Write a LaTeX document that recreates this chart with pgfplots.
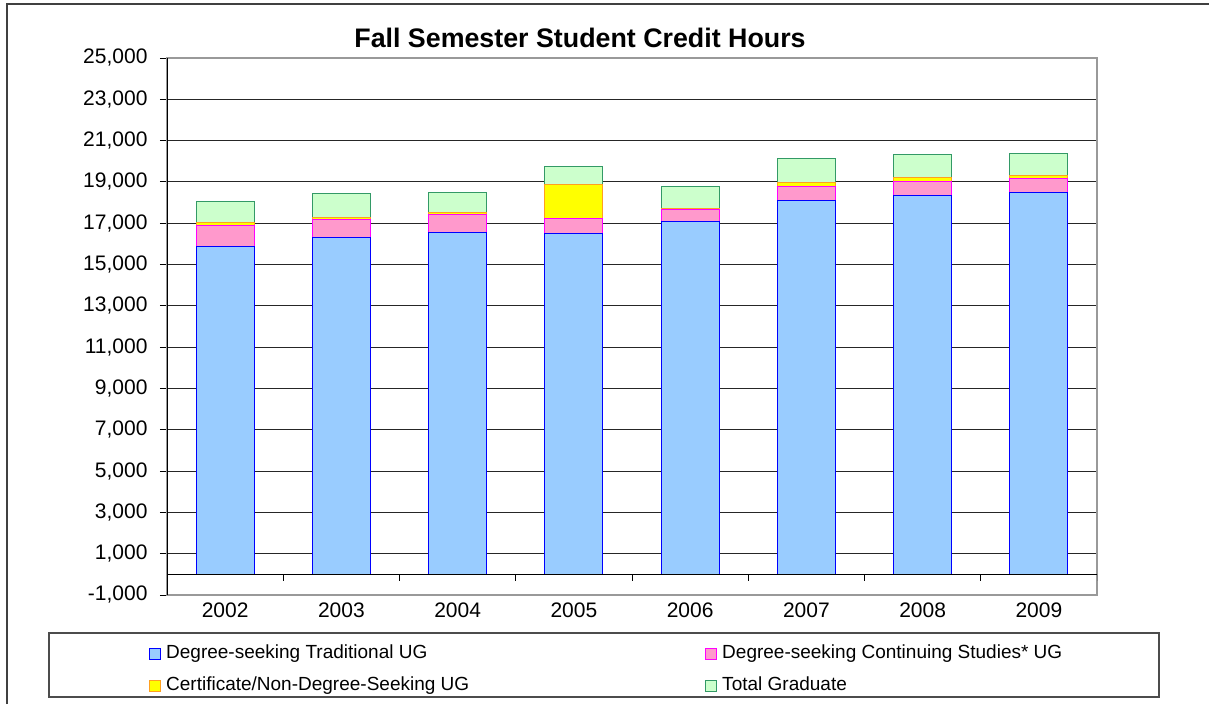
\documentclass[border=0pt]{standalone}
\usepackage{fontspec}
\setmainfont{Liberation Sans}
\usepackage{pgfplots}
\pgfplotsset{compat=1.18}
\definecolor{bluefill}{HTML}{99CCFF}
\definecolor{blueedge}{HTML}{0000FF}
\definecolor{pinkfill}{HTML}{FF99CC}
\definecolor{pinkedge}{HTML}{FF00FF}
\definecolor{yelfill}{HTML}{FFFF00}
\definecolor{yeledge}{HTML}{FFA020}
\definecolor{grnfill}{HTML}{CCFFCC}
\definecolor{grnedge}{HTML}{339966}
\begin{document}
\begin{tikzpicture}
\useasboundingbox (0,0) rectangle (1209pt,-704pt);
\draw[line width=2pt, black!75] (7pt,-704pt) -- (7pt,-4pt) -- (1209pt,-4pt);
\node[font=\bfseries\fontsize{26.8}{30}\selectfont] at (580pt,-38pt) {Fall Semester Student Credit Hours};
\draw[black!70, line width=1.5pt] (49pt,-633pt) rectangle (1159pt,-697pt);
\begin{axis}[
  at={(167pt,-595pt)}, anchor=south west,
  scale only axis, width=930pt, height=537pt,
  xmin=-0.5, xmax=7.5, ymin=-1000, ymax=25000,
  ybar stacked, bar width=0.5,
  xtick={0,...,7},
  xticklabels={2002,2003,2004,2005,2006,2007,2008,2009},
  x tick style={draw=none},
  ytick={-1000,1000,...,25000},
  ytick pos=left,
  scaled y ticks=false,
  tick align=outside, major tick length=7pt,
  y tick style={black, line width=1pt},
  ymajorgrids, major grid style={black!85, line width=1pt},
  axis line style={black!40, line width=1.5pt},
  tick label style={font=\fontsize{21}{24}\selectfont},
  yticklabel style={xshift=-9pt},
  xticklabel style={yshift=3pt},
  /pgf/number format/assume math mode=true,
  /pgf/number format/1000 sep={,},
  /pgf/number format/fixed,
  legend columns=2,
  legend cell align=left,
  legend style={draw=none, fill=none, at={(-0.0194,-0.091)}, anchor=north west,
    inner sep=0pt, font=\fontsize{19}{22}\selectfont,
    nodes={inner sep=1pt, text height=13pt, text depth=4pt},
    row sep=13pt,
    /tikz/every odd column/.append style={column sep=4pt},
    /tikz/every even column/.append style={column sep=235pt}},
  legend image code/.code={\draw[#1, line width=1pt] (0pt,-5.5pt) rectangle (11pt,5.5pt);},
]
\draw[black, line width=1pt] (axis cs:-0.5,0) -- (axis cs:7.5,0);
\addplot[fill=bluefill, draw=blueedge, line width=1pt] coordinates {(0,15850) (1,16300) (2,16560) (3,16510) (4,17060) (5,18110) (6,18320) (7,18510)};
\addlegendentry{Degree-seeking Traditional UG}
\addplot[fill=pinkfill, draw=pinkedge, line width=1pt] coordinates {(0,1020) (1,870) (2,840) (3,730) (4,620) (5,645) (6,680) (7,680)};
\addlegendentry{Degree-seeking Continuing Studies* UG}
\addplot[fill=yelfill, draw=yeledge, line width=1pt] coordinates {(0,150) (1,100) (2,130) (3,1630) (4,20) (5,230) (6,210) (7,130)};
\addlegendentry{Certificate/Non-Degree-Seeking UG}
\addplot[fill=grnfill, draw=grnedge, line width=1pt] coordinates {(0,1050) (1,1180) (2,950) (3,890) (4,1080) (5,1130) (6,1100) (7,1050)};
\addlegendentry{Total Graduate}
\draw[black, line width=1pt] (rel axis cs:0,0) -- (rel axis cs:0,1);
\draw[black, line width=1pt] (axis cs:-0.5,0) -- ([yshift=-7pt]axis cs:-0.5,0);
\draw[black, line width=1pt] (axis cs:0.5,0) -- ([yshift=-7pt]axis cs:0.5,0);
\draw[black, line width=1pt] (axis cs:1.5,0) -- ([yshift=-7pt]axis cs:1.5,0);
\draw[black, line width=1pt] (axis cs:2.5,0) -- ([yshift=-7pt]axis cs:2.5,0);
\draw[black, line width=1pt] (axis cs:3.5,0) -- ([yshift=-7pt]axis cs:3.5,0);
\draw[black, line width=1pt] (axis cs:4.5,0) -- ([yshift=-7pt]axis cs:4.5,0);
\draw[black, line width=1pt] (axis cs:5.5,0) -- ([yshift=-7pt]axis cs:5.5,0);
\draw[black, line width=1pt] (axis cs:6.5,0) -- ([yshift=-7pt]axis cs:6.5,0);
\draw[black, line width=1pt] (axis cs:7.5,0) -- ([yshift=-7pt]axis cs:7.5,0);
\end{axis}
\end{tikzpicture}
\end{document}
